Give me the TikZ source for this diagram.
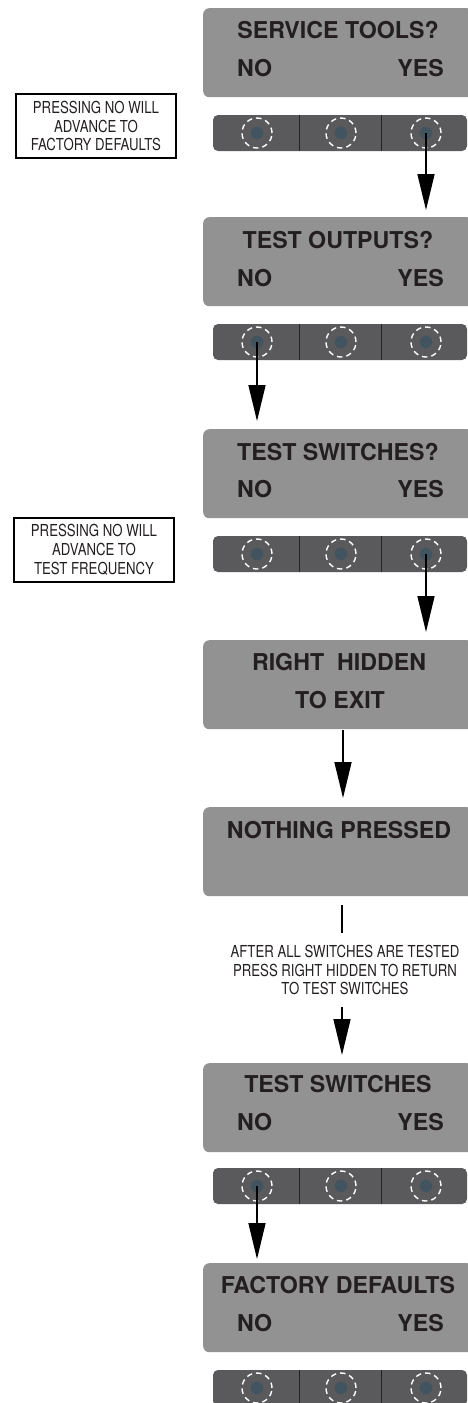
\documentclass[tikz,border=0pt]{standalone}
\usepackage{fontspec}
\setmainfont{TeX Gyre Heros}
\newfontfamily\condfont[FakeStretch=0.8]{TeX Gyre Heros}
\usetikzlibrary{arrows.meta}
\definecolor{panelgray}{RGB}{146,146,146}
\definecolor{bargray}{RGB}{90,90,92}
\definecolor{dotblue}{RGB}{66,84,96}
\definecolor{inkc}{RGB}{35,31,32}
\definecolor{divc}{RGB}{35,35,35}
\begin{document}
\begin{tikzpicture}[x=1pt,y=-1pt,
  panel/.style={fill=panelgray, rounded corners=6pt, minimum width=270pt, minimum height=89pt, inner sep=0pt, anchor=north west},
  bar/.style={fill=bargray, rounded corners=5pt, minimum width=254pt, minimum height=36pt, inner sep=0pt},
  divider/.style={draw=divc, line width=1pt},
  dot/.style={circle, fill=dotblue, minimum size=12.6pt, inner sep=0pt},
  ring/.style={circle, draw=white, line width=1.4pt, dash pattern=on 5.5pt off 4pt, minimum size=30pt, inner sep=0pt},
  title/.style={font=\bfseries\fontsize{23.2}{26}\selectfont, text=inkc, inner sep=0pt, text height=16.7pt, text depth=0pt},
  note/.style={draw=black, line width=1.1pt, minimum width=160pt, minimum height=64pt, align=center, text=inkc, inner sep=0pt, font=\condfont\fontsize{16.5}{18.8}\selectfont},
  small/.style={align=center, text=inkc, inner sep=0pt, font=\condfont\fontsize{16.5}{18.6}\selectfont},
  arr/.style={draw=black, line width=1.6pt, -{Triangle[length=36pt,width=17pt]}},
  plain/.style={draw=black, line width=1.6pt}
]
\useasboundingbox (0,0) rectangle (468,1403);
\clip (0,0) rectangle (468,1403);

% ---------- panel 1
\node[panel] (p1) at (203,8) {};
\node[title] (t1) at (338,30) {SERVICE TOOLS?};
\node[title,anchor=west] (n1) at (237,68) {NO};
\node[title,anchor=east] (y1) at (444,68) {YES};
\node[bar] (b1) at (340,133) {};
\draw[divider] ([xshift=-41pt]b1.north) -- ([xshift=-41pt]b1.south);
\draw[divider] ([xshift=41pt]b1.north) -- ([xshift=41pt]b1.south);
\foreach \n/\x in {a/257,b/341,c/426}{
  \node[ring] (r1\n) at (\x,133) {};
  \node[dot] (d1\n) at (\x,133) {};
}
\node[note] (k1) at (96,126) {PRESSING NO WILL\\ADVANCE TO\\FACTORY DEFAULTS};

% ---------- panel 2
\node[panel] (p2) at (203,217) {};
\node[title] (t2) at (338,240) {TEST OUTPUTS?};
\node[title,anchor=west] (n2) at (237,278) {NO};
\node[title,anchor=east] (y2) at (444,278) {YES};
\node[bar] (b2) at (340,342) {};
\draw[divider] ([xshift=-41pt]b2.north) -- ([xshift=-41pt]b2.south);
\draw[divider] ([xshift=41pt]b2.north) -- ([xshift=41pt]b2.south);
\foreach \n/\x in {a/257,b/341,c/426}{
  \node[ring] (r2\n) at (\x,342) {};
  \node[dot] (d2\n) at (\x,342) {};
}

% ---------- panel 3
\node[panel] (p3) at (203,429) {};
\node[title] (t3) at (338,452) {TEST SWITCHES?};
\node[title,anchor=west] (n3) at (237,489) {NO};
\node[title,anchor=east] (y3) at (444,489) {YES};
\node[bar] (b3) at (340,554) {};
\draw[divider] ([xshift=-41pt]b3.north) -- ([xshift=-41pt]b3.south);
\draw[divider] ([xshift=41pt]b3.north) -- ([xshift=41pt]b3.south);
\foreach \n/\x in {a/257,b/341,c/426}{
  \node[ring] (r3\n) at (\x,554) {};
  \node[dot] (d3\n) at (\x,554) {};
}
\node[note] (k2) at (94,550) {PRESSING NO WILL\\ADVANCE TO\\TEST FREQUENCY};

% ---------- panel 4
\node[panel] (p4) at (203,640) {};
\node[title] (t4) at (339,662) {RIGHT\ \ HIDDEN};
\node[title] (u4) at (340,700) {TO EXIT};

% ---------- panel 5
\node[panel] (p5) at (203,807) {};
\node[title] (t5) at (339,830) {NOTHING PRESSED};

% ---------- middle note
\coordinate (m1) at (342,905);
\coordinate (m2) at (342,933);
\node[small] (mt) at (345,970) {AFTER ALL SWITCHES ARE TESTED\\PRESS RIGHT HIDDEN TO RETURN\\TO TEST SWITCHES};
\coordinate (m3) at (342,1007);

% ---------- panel 6
\node[panel] (p6) at (203,1063) {};
\node[title] (t6) at (338,1084) {TEST SWITCHES};
\node[title,anchor=west] (n6) at (237,1122) {NO};
\node[title,anchor=east] (y6) at (444,1122) {YES};
\node[bar] (b6) at (340,1186) {};
\draw[divider] ([xshift=-41pt]b6.north) -- ([xshift=-41pt]b6.south);
\draw[divider] ([xshift=41pt]b6.north) -- ([xshift=41pt]b6.south);
\foreach \n/\x in {a/257,b/341,c/426}{
  \node[ring] (r6\n) at (\x,1186) {};
  \node[dot] (d6\n) at (\x,1186) {};
}

% ---------- panel 7
\node[panel] (p7) at (203,1263) {};
\node[title] (t7) at (338,1285) {FACTORY DEFAULTS};
\node[title,anchor=west] (n7) at (237,1323) {NO};
\node[title,anchor=east] (y7) at (444,1323) {YES};
\node[bar] (b7) at (340,1388) {};
\draw[divider] ([xshift=-41pt]b7.north) -- ([xshift=-41pt]b7.south);
\draw[divider] ([xshift=41pt]b7.north) -- ([xshift=41pt]b7.south);
\foreach \n/\x in {a/257,b/341,c/426}{
  \node[ring] (r7\n) at (\x,1388) {};
  \node[dot] (d7\n) at (\x,1388) {};
}

% ---------- connectors
\coordinate (a4) at (343,730);
\draw[arr, shorten >=7pt] (d1c.center) -- (p2.north -| d1c);
\draw[arr, shorten >=8pt] (d2a.center) -- (p3.north -| d2a);
\draw[arr, shorten >=8pt] (d3c.center) -- (p4.north -| d3c);
\draw[arr, shorten >=9pt] (a4) -- (p5.north -| a4);
\draw[plain] (m1) -- (m2);
\draw[arr, shorten >=8pt] (m3) -- (p6.north -| m3);
\draw[arr, shorten >=4pt] (d6a.center) -- (p7.north -| d6a);
\end{tikzpicture}
\end{document}
